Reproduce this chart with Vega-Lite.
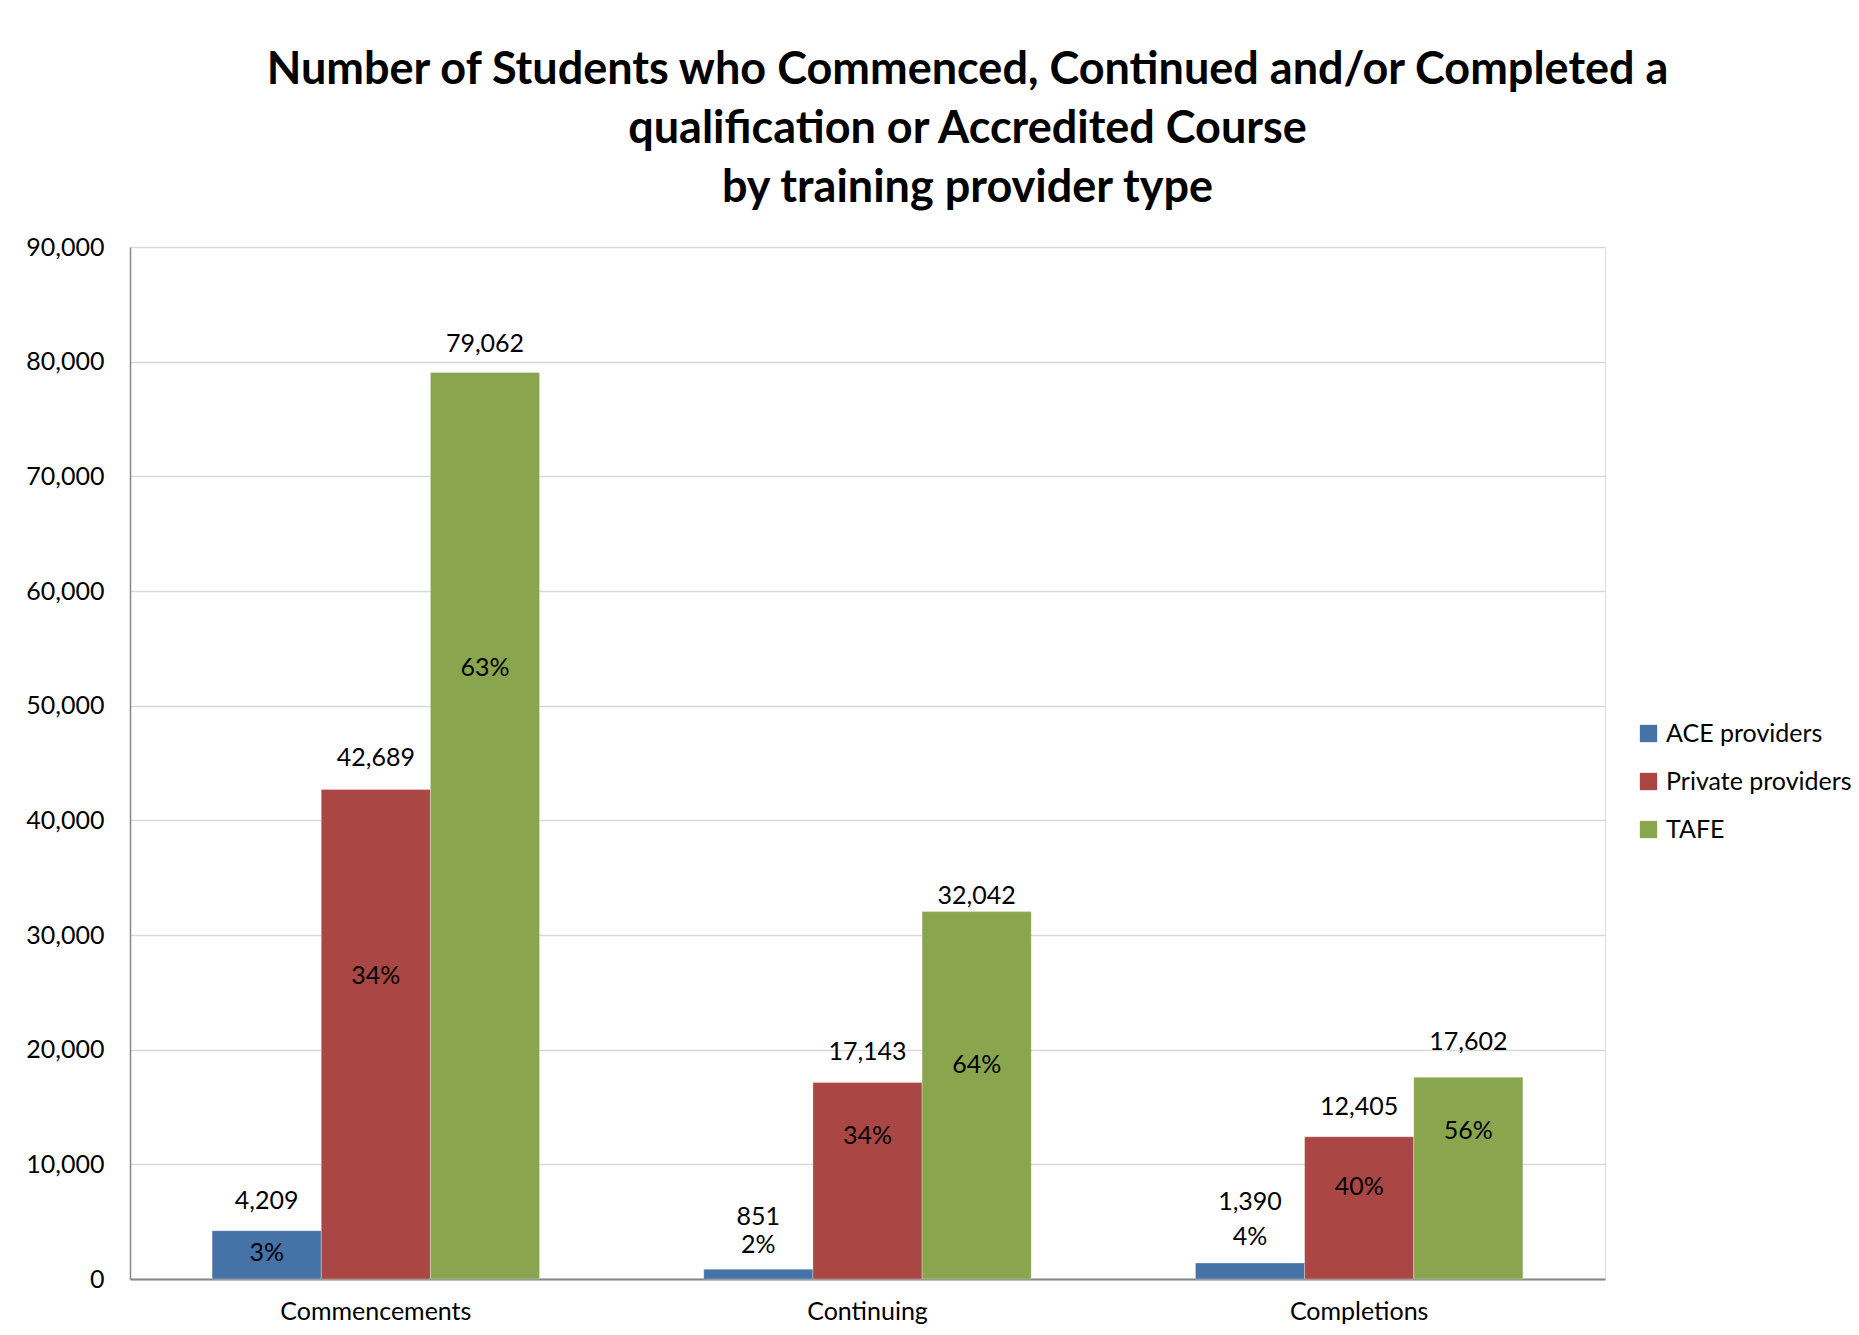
{
  "$schema": "https://vega.github.io/schema/vega-lite/v6.json",
  "width": 1475,
  "height": 1032,
  "autosize": {"type": "none"},
  "padding": {"left": 130, "top": 247, "right": 254, "bottom": 56},
  "background": "white",
  "title": {
    "text": ["Number of Students who Commenced, Continued and/or Completed a", "qualification or Accredited Course", "by training provider type"],
    "font": "Lato",
    "fontSize": 45,
    "fontWeight": "bold",
    "color": "black",
    "anchor": "middle",
    "dx": 100,
    "lineHeight": 59,
    "offset": 24
  },
  "data": {
    "values": [
      {"stage": "Commencements", "provider": "ACE providers", "students": 4209, "share": 0.03, "valueLabelAt": 6820, "pctLabelAt": 2270},
      {"stage": "Commencements", "provider": "Private providers", "students": 42689, "share": 0.34, "valueLabelAt": 45450, "pctLabelAt": 26450},
      {"stage": "Commencements", "provider": "TAFE", "students": 79062, "share": 0.63, "valueLabelAt": 81500, "pctLabelAt": 53300},
      {"stage": "Continuing", "provider": "ACE providers", "students": 851, "share": 0.02, "valueLabelAt": 5450, "pctLabelAt": 2950},
      {"stage": "Continuing", "provider": "Private providers", "students": 17143, "share": 0.34, "valueLabelAt": 19840, "pctLabelAt": 12500},
      {"stage": "Continuing", "provider": "TAFE", "students": 32042, "share": 0.64, "valueLabelAt": 33370, "pctLabelAt": 18700},
      {"stage": "Completions", "provider": "ACE providers", "students": 1390, "share": 0.04, "valueLabelAt": 6715, "pctLabelAt": 3620},
      {"stage": "Completions", "provider": "Private providers", "students": 12405, "share": 0.40, "valueLabelAt": 14980, "pctLabelAt": 8060},
      {"stage": "Completions", "provider": "TAFE", "students": 17602, "share": 0.56, "valueLabelAt": 20670, "pctLabelAt": 12900}
    ]
  },
  "encoding": {
    "x": {
      "field": "stage",
      "type": "nominal",
      "sort": ["Commencements", "Continuing", "Completions"],
      "scale": {"paddingInner": 0.334, "paddingOuter": 0.167},
      "axis": {
        "title": null,
        "labelAngle": 0,
        "labelFont": "Lato",
        "labelFontSize": 25,
        "labelColor": "black",
        "labelPadding": 20,
        "labelLimit": 0,
        "ticks": false,
        "domainColor": "#868686",
        "domainWidth": 2
      }
    },
    "xOffset": {
      "field": "provider",
      "type": "nominal",
      "sort": ["ACE providers", "Private providers", "TAFE"],
      "scale": {"paddingInner": 0, "paddingOuter": 0}
    }
  },
  "layer": [
    {
      "mark": {"type": "bar", "stroke": "white", "strokeWidth": 0.5, "strokeOpacity": 0.6},
      "encoding": {
        "y": {
          "field": "students",
          "type": "quantitative",
          "scale": {"domain": [0, 90000], "nice": false},
          "axis": {
            "title": null,
            "values": [0, 10000, 20000, 30000, 40000, 50000, 60000, 70000, 80000, 90000],
            "format": ",.0f",
            "labelFont": "Lato",
            "labelFontSize": 25,
            "labelColor": "black",
            "labelPadding": 26,
            "ticks": false,
            "domainColor": "#868686",
            "domainWidth": 1.5,
            "gridColor": "#D9D9D9",
            "gridWidth": 1.5
          }
        },
        "color": {
          "field": "provider",
          "type": "nominal",
          "sort": ["ACE providers", "Private providers", "TAFE"],
          "scale": {"domain": ["ACE providers", "Private providers", "TAFE"], "range": ["#4572A7", "#AA4643", "#89A54E"]},
          "legend": {
            "title": null,
            "orient": "none",
            "legendX": 1506,
            "legendY": 474,
            "symbolType": "square",
            "symbolSize": 300,
            "symbolStrokeWidth": 0,
            "symbolOpacity": 1,
            "labelFont": "Lato",
            "labelFontSize": 25,
            "labelColor": "black",
            "labelOffset": 5,
            "labelLimit": 400,
            "rowPadding": 22
          }
        }
      }
    },
    {
      "mark": {"type": "text", "font": "Lato", "fontSize": 25, "color": "black", "baseline": "middle", "align": "center"},
      "encoding": {
        "y": {"field": "valueLabelAt", "type": "quantitative"},
        "text": {"field": "students", "type": "quantitative", "format": ","}
      }
    },
    {
      "mark": {"type": "text", "font": "Lato", "fontSize": 25, "color": "black", "baseline": "middle", "align": "center"},
      "encoding": {
        "y": {"field": "pctLabelAt", "type": "quantitative"},
        "text": {"field": "share", "type": "quantitative", "format": ".0%"}
      }
    }
  ]
}
